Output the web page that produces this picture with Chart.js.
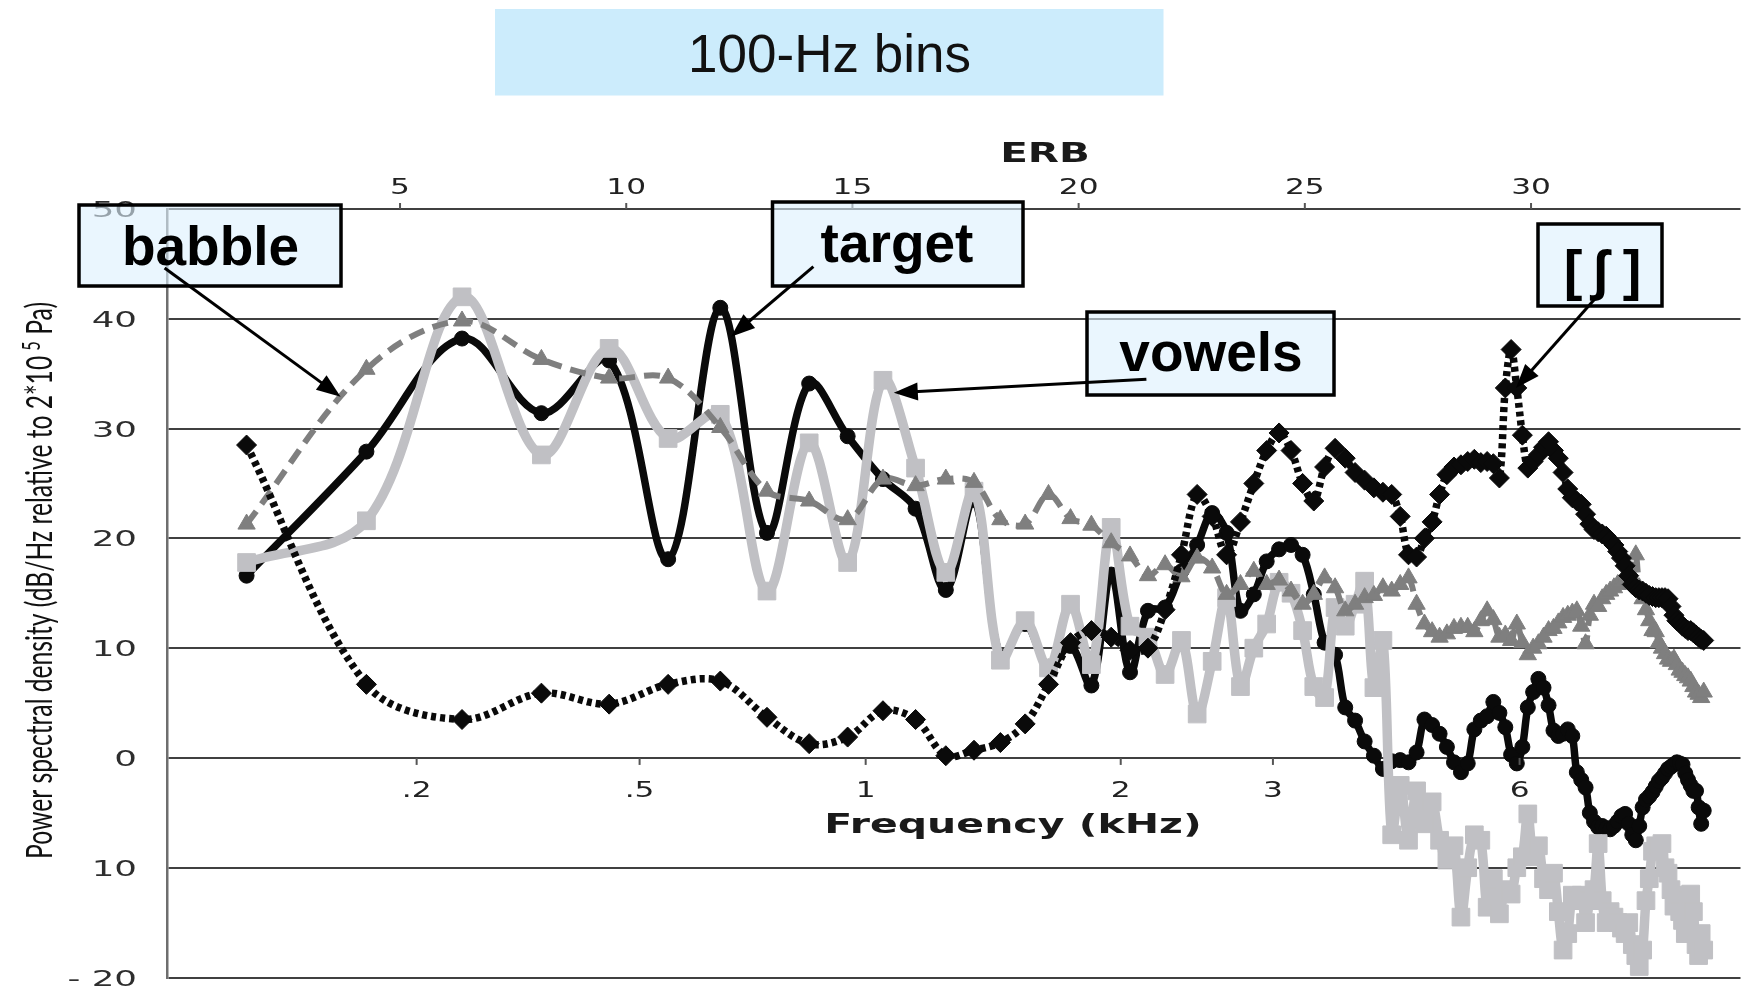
<!DOCTYPE html>
<html>
<head>
<meta charset="utf-8">
<script src="https://cdn.jsdelivr.net/npm/chart.js@4.4.1/dist/chart.umd.min.js"></script>
<style>
  html, body { margin: 0; padding: 0; background: #ffffff; }
  #c { display: block; }
</style>
</head>
<body>
<canvas id="c" width="1754" height="991"></canvas>
<script>
// ---------------- DATA ----------------
// 100-Hz bin centres (Hz)
const binsHz = [
  50,150,250,350,450,550,650,750,850,950,
  1050,1150,1250,1350,1450,1550,1650,1750,1850,1950,
  2050,2150,2250,2350,2450,2550,2650,2750,2850,2950,
  3050,3150,3250,3350,3450,3550,3650,3750,3850,3950,
  4050,4150,4250,4350,4450,4550,4650,4750,4850,4950,
  5050,5150,5250,5350,5450,5550,5650,5750,5850,5950,
  6050,6150,6250,6350,6450,6550,6650,6750,6850,6950,
  7050,7150,7250,7350,7450,7550,7650,7750,7850,7950,
  8050,8150,8250,8350,8450,8550,8650,8750,8850,8950,
  9050,9150,9250,9350,9450,9550,9650,9750,9850,9950,
  10050,10150,10250,10350,10450,10550,10650,10750,10850,10950
];

const target = [
  16.6, 27.9, 38.2, 31.4, 36.2, 18.1, 41.0, 20.5, 34.1, 29.3,
  25.4, 22.7, 15.3, 23.5, 9.2, 12.2, 8.3, 10.2, 6.6, 16.7,
  7.8, 13.4, 13.7, 17.0, 19.4, 22.3, 20.5, 13.4, 14.9, 17.9,
  19.0, 19.4, 18.5, 14.9, 10.5, 9.4, 4.6, 3.4, 1.5, 0.2,
  -1.0, -0.3, -0.2, -0.4, 0.5, 3.5, 3.0, 2.2, 1.0, -0.4,
  -1.3, -0.5, 2.6, 3.4, 3.8, 5.1, 4.1, 2.8, 0.3, -0.5,
  1.0, 4.6, 6.0, 7.2, 6.4, 4.8, 2.5, 2.0, 2.2, 2.6,
  2.0, -1.3, -2.0, -2.7, -5.0, -5.8, -6.3, -6.2, -6.4, -6.5,
  -6.2, -5.8, -5.3, -5.1, -6.0, -7.0, -7.5, -6.2, -4.5, -3.8,
  -3.5, -3.1, -2.6, -2.1, -1.8, -1.4, -1.0, -0.8, -0.6, -0.4,
  -0.5, -0.6, -1.4, -2.0, -2.5, -3.0, -3.0, -4.5, -6.0, -4.8
];

const vowels = [
  17.8, 21.6, 42.0, 27.6, 37.3, 29.1, 31.3, 15.2, 28.7, 17.8,
  34.4, 26.4, 16.9, 24.3, 8.9, 12.5, 8.2, 14.0, 8.5, 21.0,
  12.0, 11.0, 7.6, 10.7, 4.0, 8.8, 14.6, 6.5, 10.0, 12.2,
  16.0, 15.0, 11.6, 6.5, 5.5, 13.7, 12.0, 14.0, 16.1, 6.4,
  10.7, -7.0, -2.5, -7.5, -3.0, -6.0, -4.0, -7.5, -9.3, -8.0,
  -14.5, -10.0, -7.0, -7.5, -13.6, -11.0, -14.2, -12.0, -12.4, -10.0,
  -9.0, -5.1, -9.0, -8.0, -11.0, -12.0, -10.5, -14.0, -17.5, -16.0,
  -12.5, -13.0, -12.5, -15.0, -13.0, -12.0, -7.8, -13.0, -15.0, -14.0,
  -14.5, -15.0, -15.5, -16.0, -15.0, -17.0, -18.0, -19.0, -17.5, -13.0,
  -11.0, -8.5, -8.0, -8.1, -7.8, -10.0, -10.5, -12.0, -13.5, -12.5,
  -14.0, -14.8, -16.0, -13.0, -12.4, -14.0, -17.0, -18.0, -16.0, -17.5
];

const babble = [
  21.3, 35.4, 39.8, 36.3, 34.6, 34.6, 30.1, 24.3, 23.4, 21.7,
  25.4, 24.8, 25.4, 25.1, 21.7, 21.3, 24.0, 21.8, 21.2, 19.6,
  18.4, 16.6, 17.6, 16.5, 18.2, 17.3, 14.9, 15.8, 17.0, 15.8,
  16.2, 15.2, 14.0, 14.9, 16.4, 15.5, 13.4, 14.0, 14.6, 14.8,
  15.5, 15.2, 15.8, 16.4, 14.0, 12.2, 11.5, 11.0, 11.3, 11.8,
  11.9, 11.9, 11.5, 12.5, 13.4, 12.6, 11.0, 11.2, 10.7, 12.2,
  10.5, 9.4, 10.0, 10.4, 11.0, 11.6, 11.8, 12.3, 12.8, 13.0,
  13.2, 13.4, 12.0, 10.4, 13.0, 14.0, 13.8, 14.5, 14.9, 15.2,
  15.5, 15.8, 16.0, 16.3, 16.2, 16.4, 18.5, 15.5, 14.5, 13.5,
  12.5, 11.6, 11.5, 10.5, 10.0, 9.5, 9.0, 8.8, 9.0, 8.5,
  8.0, 7.8, 7.5, 7.3, 7.0, 6.5, 6.0, 5.8, 5.5, 6.0
];

const esh = [
  28.5, 6.7, 3.5, 5.9, 4.9, 6.7, 7.0, 3.7, 1.3, 1.9,
  4.3, 3.5, 0.2, 0.7, 1.4, 3.1, 6.7, 10.5, 11.6, 11.0,
  9.8, 10.0, 13.5, 18.5, 24.0, 22.0, 18.5, 21.5, 25.0, 28.0,
  29.6, 28.0, 25.0, 23.4, 26.5, 28.2, 27.3, 26.0, 25.3, 24.6,
  24.2, 24.0, 22.0, 18.5, 18.3, 20.0, 21.5, 24.0, 25.8, 26.5,
  26.7, 27.0, 27.2, 26.9, 27.0, 26.8, 25.5, 33.7, 37.2, 33.7,
  29.4, 26.4, 27.0, 27.6, 28.3, 28.8, 28.0, 27.3, 26.0, 24.5,
  23.7, 23.4, 23.1, 22.2, 21.3, 20.8, 20.6, 20.4, 20.2, 19.8,
  19.4, 18.8, 18.2, 17.5, 16.6, 15.8, 15.5, 15.3, 15.2, 15.0,
  14.8, 14.7, 14.6, 14.6, 14.6, 14.6, 14.5, 13.8, 13.0, 12.5,
  12.3, 12.0, 11.8, 11.6, 11.6, 11.4, 11.2, 11.0, 10.8, 10.7
];

// Axis tick definitions
const yTickValues = [50, 40, 30, 20, 10, 0, -10, -20];
const yTickLabels = ['50', '40', '30', '20', '10', '0', '10', '- 20'];
const erbTickValues = [5, 10, 15, 20, 25, 30];
const erbTickLabels = ['5', '10', '15', '20', '25', '30'];
const freqTickHz = [200, 500, 1000, 2000, 3000, 6000];
const freqTickLabels = ['.2', '.5', '1', '2', '3', '6'];

// ---------------- ERB-rate scale (Moore & Glasberg 1983) ----------------
function erb(fHz) { return 11.17 * Math.log((fHz + 312) / (fHz + 14675)) + 43.0; }
function pts(series) { return binsHz.map((f, i) => ({ x: erb(f), y: series[i] })); }

// ---------------- drawing helpers ----------------
function sText(ctx, txt, x, y, font, sx, align, color) {
  ctx.save();
  ctx.font = font;
  ctx.fillStyle = color;
  ctx.textBaseline = 'alphabetic';
  ctx.textAlign = 'left';
  const w = ctx.measureText(txt).width * sx;
  const x0 = align === 'center' ? x - w / 2 : (align === 'right' ? x - w : x);
  ctx.translate(x0, y);
  ctx.scale(sx, 1);
  ctx.fillText(txt, 0, 0);
  ctx.restore();
}
function arrow(ctx, x1, y1, x2, y2) {
  const ang = Math.atan2(y2 - y1, x2 - x1);
  const L = 24, W = 9;
  const bx = x2 - L * Math.cos(ang), by = y2 - L * Math.sin(ang);
  ctx.save();
  ctx.strokeStyle = '#000'; ctx.fillStyle = '#000'; ctx.lineWidth = 3;
  ctx.beginPath(); ctx.moveTo(x1, y1); ctx.lineTo(bx + 4 * Math.cos(ang), by + 4 * Math.sin(ang)); ctx.stroke();
  ctx.beginPath();
  ctx.moveTo(x2, y2);
  ctx.lineTo(bx + W * Math.sin(ang), by - W * Math.cos(ang));
  ctx.lineTo(bx - W * Math.sin(ang), by + W * Math.cos(ang));
  ctx.closePath(); ctx.fill();
  ctx.restore();
}
function noteBox(ctx, x1, y1, x2, y2) {
  ctx.save();
  ctx.fillStyle = 'rgba(220,240,253,0.6)';
  ctx.fillRect(x1, y1, x2 - x1, y2 - y1);
  ctx.strokeStyle = '#000'; ctx.lineWidth = 3.5;
  ctx.strokeRect(x1, y1, x2 - x1, y2 - y1);
  ctx.restore();
}

const deco = {
  id: 'deco',
  afterDraw(chart) {
    const ctx = chart.ctx;
    const xs = chart.scales.x, ys = chart.scales.y;
    const area = chart.chartArea;
    const tickFont = '22px "DejaVu Sans"';
    const labCol = '#2e2e2e';

    // title box
    ctx.save();
    ctx.fillStyle = '#CCECFC';
    ctx.fillRect(495, 9, 668.5, 86.5);
    ctx.fillStyle = '#111';
    ctx.font = '53px "Liberation Sans", Arial, sans-serif';
    ctx.textAlign = 'center'; ctx.textBaseline = 'alphabetic';
    ctx.fillText('100-Hz bins', 829.5, 71.5);
    ctx.restore();

    // y tick labels
    yTickValues.forEach((v, i) => {
      const py = ys.getPixelForValue(v);
      sText(ctx, yTickLabels[i], 137, py + 8, tickFont, 1.62, 'right', labCol);
    });

    // top ERB axis ticks + labels
    ctx.save();
    ctx.strokeStyle = '#555'; ctx.lineWidth = 2;
    erbTickValues.forEach((v) => {
      const px = xs.getPixelForValue(v);
      ctx.beginPath(); ctx.moveTo(px, area.top); ctx.lineTo(px, area.top - 6); ctx.stroke();
    });
    ctx.restore();
    erbTickValues.forEach((v, i) => {
      sText(ctx, erbTickLabels[i], xs.getPixelForValue(v), 193.5, '22px "DejaVu Sans"', 1.42, 'center', '#222');
    });
    sText(ctx, 'ERB', 1045, 161.5, 'bold 27px "DejaVu Sans"', 1.5, 'center', '#1a1a1a');

    // bottom frequency ticks (on the 0 dB line) + labels
    const y0 = ys.getPixelForValue(0);
    ctx.save();
    ctx.strokeStyle = '#555'; ctx.lineWidth = 2;
    freqTickHz.forEach((f) => {
      const px = xs.getPixelForValue(erb(f));
      ctx.beginPath(); ctx.moveTo(px, y0); ctx.lineTo(px, y0 + 7); ctx.stroke();
    });
    ctx.restore();
    freqTickHz.forEach((f, i) => {
      sText(ctx, freqTickLabels[i], xs.getPixelForValue(erb(f)), 797, '22px "DejaVu Sans"', 1.42, 'center', '#222');
    });
    sText(ctx, 'Frequency (kHz)', 1013, 833, 'bold 27px "DejaVu Sans"', 1.52, 'center', '#1a1a1a');

    // y-axis title (rotated, with superscript)
    ctx.save();
    const f1 = '24px Lato, "Open Sans", sans-serif';
    const f2 = '16px Lato, "Open Sans", sans-serif';
    const p1 = 'Power spectral density (dB/Hz relative to 2*10';
    const p2 = '5';
    const p3 = ' Pa)';
    ctx.font = f1;
    const w1 = ctx.measureText(p1).width, w3 = ctx.measureText(p3).width;
    ctx.font = f2;
    const w2 = ctx.measureText(p2).width;
    const gap = 5;
    const W = w1 + gap + w2 + w3;
    const sx = 557 / W, sy = 1.55;
    ctx.translate(52, 580.5);
    ctx.rotate(-Math.PI / 2);
    ctx.scale(sx, sy);
    ctx.fillStyle = '#111';
    ctx.textBaseline = 'alphabetic'; ctx.textAlign = 'left';
    ctx.font = f1; ctx.fillText(p1, -W / 2, 0);
    ctx.font = f2; ctx.fillText(p2, -W / 2 + w1 + gap, -8);
    ctx.font = f1; ctx.fillText(p3, -W / 2 + w1 + gap + w2, 0);
    ctx.restore();

    // annotation boxes
    const bold = 'bold 55px "Liberation Sans", Arial, "DejaVu Sans", sans-serif';
    ctx.save();
    ctx.fillStyle = '#000'; ctx.textAlign = 'center'; ctx.textBaseline = 'alphabetic';
    noteBox(ctx, 79, 205, 341, 286);
    ctx.font = bold; ctx.fillText('babble', 210.5, 265);
    noteBox(ctx, 772.5, 202, 1023, 286);
    ctx.font = bold; ctx.fillText('target', 897, 262);
    noteBox(ctx, 1087, 312, 1334, 395);
    ctx.font = bold; ctx.fillText('vowels', 1211, 371);
    noteBox(ctx, 1538, 224, 1662, 306);
    ctx.font = 'bold 56px "Liberation Sans", Arial, "DejaVu Sans", sans-serif';
    ctx.fillText('[', 1573, 289);
    ctx.fillText('\u0283', 1600, 289);
    ctx.fillText(']', 1632, 289);
    ctx.restore();

    arrow(ctx, 164.6, 268, 340.6, 396.7);
    arrow(ctx, 813.4, 266.7, 731, 336.7);
    arrow(ctx, 1146.4, 379.3, 893.8, 392.7);
    arrow(ctx, 1596.8, 296.7, 1516, 388);
  }
};

const BLACK = '#0a0a0a';
const MIDGRAY = '#7f7f7f';
const LIGHTGRAY = '#c0c0c4';

new Chart(document.getElementById('c'), {
  type: 'line',
  data: {
    datasets: [
      {
        label: '[\u0283]', data: pts(esh), order: 1,
        borderColor: BLACK, backgroundColor: BLACK, borderWidth: 7.5, borderDash: [5, 4],
        pointStyle: 'rectRot', pointRadius: 10, pointBorderWidth: 1, pointBorderColor: BLACK, pointBackgroundColor: BLACK,
        tension: 0.35
      },
      {
        label: 'babble', data: pts(babble), order: 2,
        borderColor: MIDGRAY, backgroundColor: MIDGRAY, borderWidth: 6, borderDash: [16, 9],
        pointStyle: 'triangle', pointRadius: 10, pointBorderWidth: 1, pointBorderColor: MIDGRAY, pointBackgroundColor: MIDGRAY,
        tension: 0.35
      },
      {
        label: 'vowels', data: pts(vowels), order: 3,
        borderColor: LIGHTGRAY, backgroundColor: LIGHTGRAY, borderWidth: 9.5, borderJoinStyle: 'round',
        pointStyle: 'rect', pointRadius: 12.5, pointBorderWidth: 1, pointBorderColor: LIGHTGRAY, pointBackgroundColor: LIGHTGRAY,
        tension: 0.35
      },
      {
        label: 'target', data: pts(target), order: 4,
        borderColor: BLACK, backgroundColor: BLACK, borderWidth: 7.5, borderJoinStyle: 'round',
        pointStyle: 'circle', pointRadius: 7.5, pointBorderWidth: 1, pointBorderColor: BLACK, pointBackgroundColor: BLACK,
        tension: 0.35
      }
    ]
  },
  options: {
    responsive: false,
    animation: false,
    devicePixelRatio: 1,
    layout: { padding: { left: 167.5, top: 209, right: 0, bottom: 11 } },
    plugins: { legend: { display: false }, tooltip: { enabled: false }, title: { display: false } },
    scales: {
      x: { type: 'linear', min: -0.14, max: 34.63, display: false },
      y: {
        type: 'linear', min: -20, max: 50,
        ticks: { display: false, stepSize: 10 },
        grid: { color: '#404040', lineWidth: 2, drawTicks: false },
        border: { display: true, color: '#6e6e6e', width: 2.5 }
      }
    }
  },
  plugins: [deco]
});
</script>
</body>
</html>
